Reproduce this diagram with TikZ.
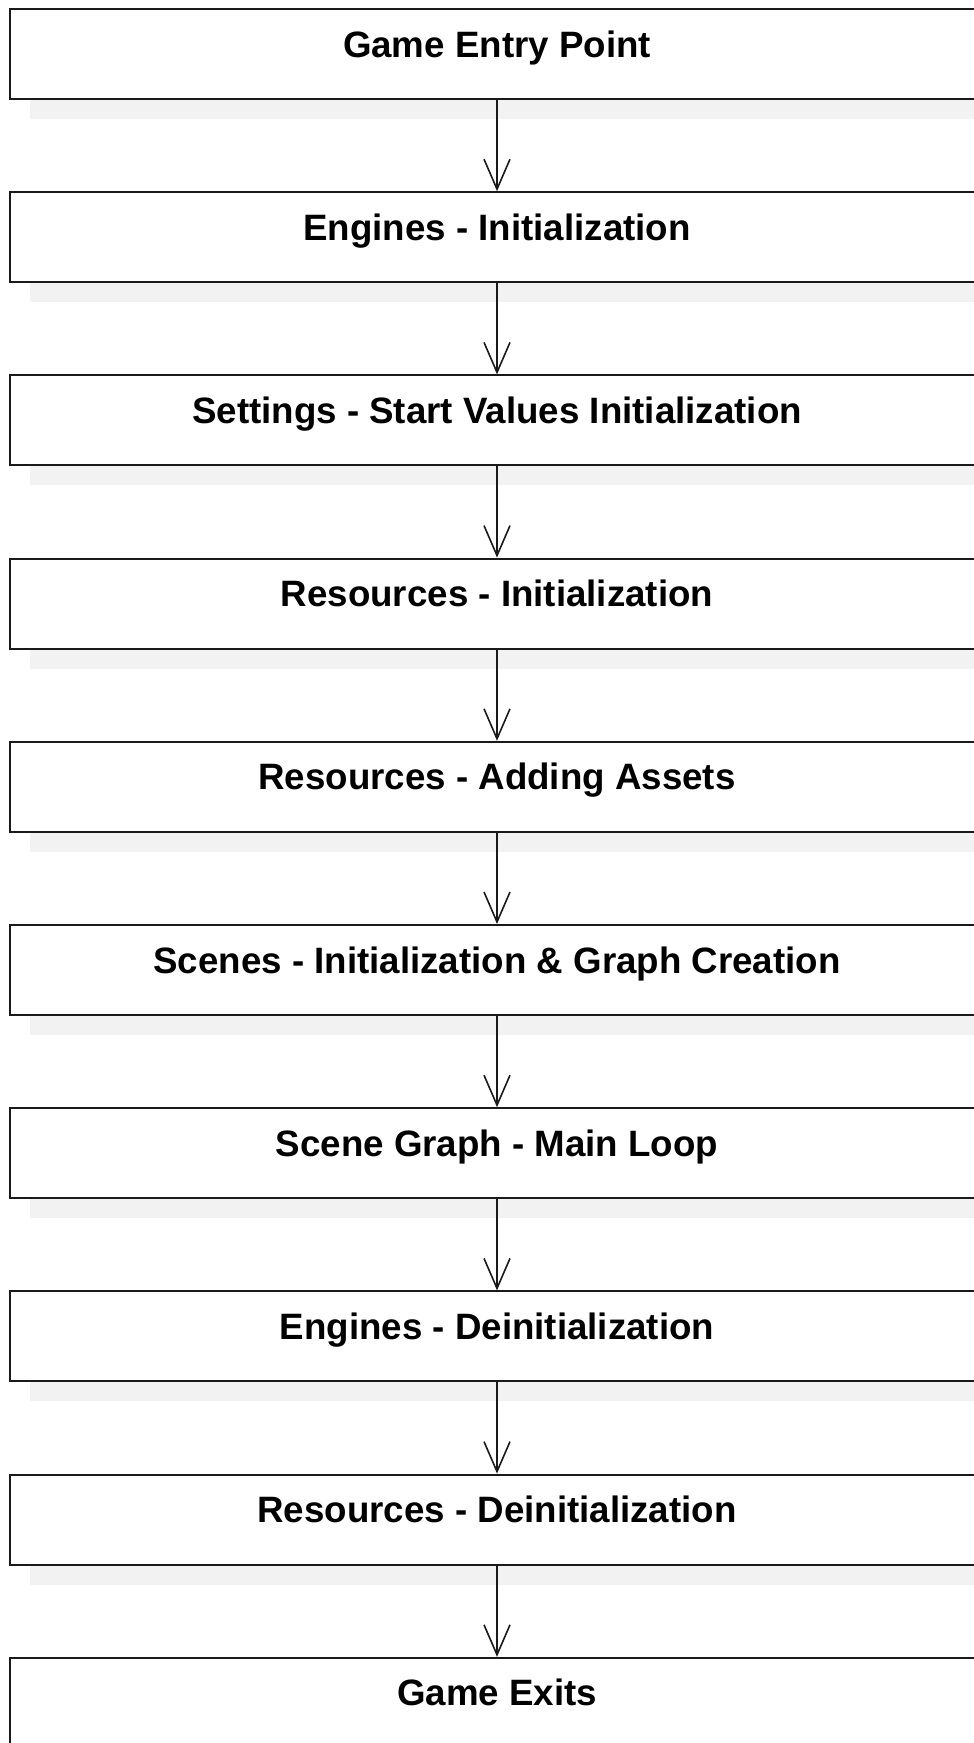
\documentclass[tikz,border=0pt]{standalone}
\usepackage{fontspec}
\setmainfont{Liberation Sans}
\usetikzlibrary{arrows.meta,shadows}

\definecolor{shadowgray}{HTML}{F2F2F2}
\definecolor{edgegray}{HTML}{1A1A1A}

\tikzset{
  stepbox/.style={
    draw=edgegray, line width=2pt, fill=white,
    rectangle, inner sep=0pt,
    minimum width=974pt, minimum height=90pt,
    text height=48pt, text depth=42pt,
    font=\fontsize{36.7}{44}\selectfont\bfseries,
    general shadow={fill=shadowgray, shadow xshift=20pt, shadow yshift=-20pt}
  },
  conn/.style={
    draw=edgegray, line width=1.6pt,
    -{Straight Barb[length=30pt,width=26pt,line width=1.6pt]}
  }
}

\begin{document}
\begin{tikzpicture}[x=1pt,y=-1pt]
  \useasboundingbox (0,0) rectangle (974,1743);
  \clip (0,0) rectangle (974,1743);

  % the stages, one below another
  \node[stepbox] (s0) at (497,  54.0) {Game Entry Point};
  \node[stepbox] (s1) at (497, 237.2) {Engines - Initialization};
  \node[stepbox] (s2) at (497, 420.4) {Settings - Start Values Initialization};
  \node[stepbox] (s3) at (497, 603.6) {Resources - Initialization};
  \node[stepbox] (s4) at (497, 786.8) {Resources - Adding Assets};
  \node[stepbox] (s5) at (497, 970.0) {Scenes - Initialization \& Graph Creation};
  \node[stepbox] (s6) at (497,1153.2) {Scene Graph - Main Loop};
  \node[stepbox] (s7) at (497,1336.4) {Engines - Deinitialization};
  \node[stepbox] (s8) at (497,1519.6) {Resources - Deinitialization};
  \node[stepbox] (s9) at (497,1702.8) {Game Exits};

  % flow from each stage to the next
  \foreach \a/\b in {s0/s1,s1/s2,s2/s3,s3/s4,s4/s5,s5/s6,s6/s7,s7/s8,s8/s9}
    \draw[conn] (\a) -- (\b);
\end{tikzpicture}
\end{document}
